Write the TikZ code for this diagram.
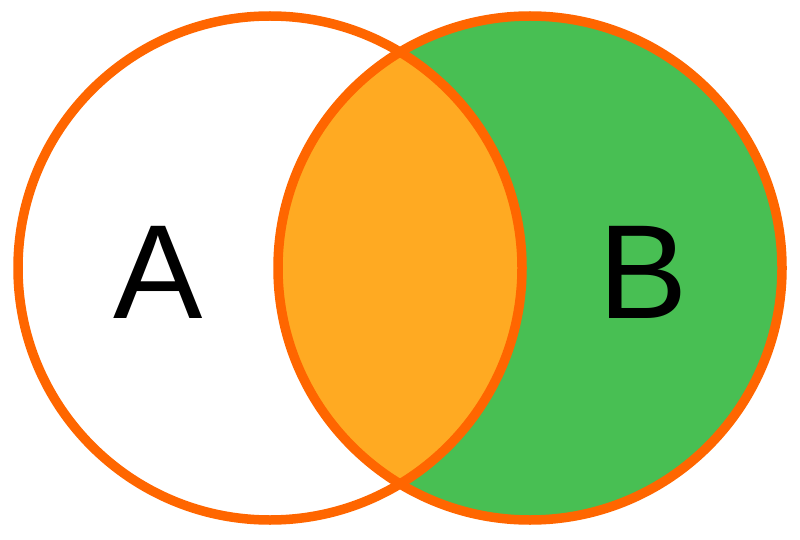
\documentclass[tikz,border=0pt]{standalone}
\usepackage{fontspec}
\setmainfont{Liberation Sans}
\definecolor{ringorange}{HTML}{FF6600}
\definecolor{midorange}{HTML}{FFAA22}
\definecolor{bgreen}{HTML}{48BF53}
\begin{document}
\begin{tikzpicture}[x=1pt,y=-1pt,
  ring/.style={draw=ringorange,line width=9.5pt},
  lbl/.style={font=\fontsize{134}{134}\selectfont,inner sep=0pt,anchor=base}]
\useasboundingbox (0,0) rectangle (800,540);
\coordinate (ca) at (270,268);
\coordinate (cb) at (530,268);
\fill[bgreen] (cb) circle[radius=252];
\begin{scope}
  \clip (ca) circle[radius=252];
  \fill[midorange] (cb) circle[radius=252];
\end{scope}
\draw[ring] (ca) circle[radius=252];
\draw[ring] (cb) circle[radius=252];
\node[lbl] (a) at (158,318) {A};
\node[lbl] (b) at (643,318) {B};
\end{tikzpicture}
\end{document}
